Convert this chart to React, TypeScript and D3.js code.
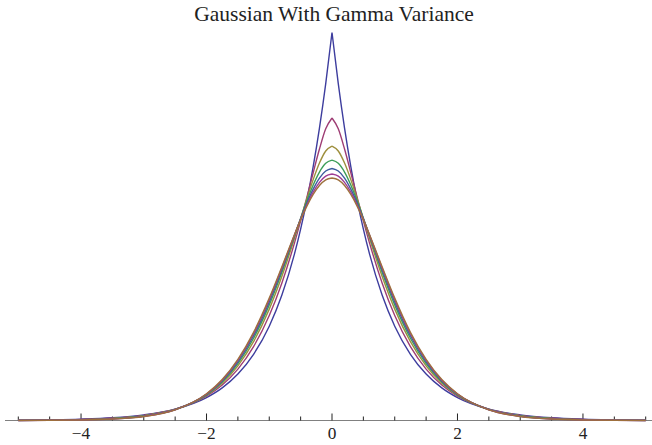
import React from 'react';
import * as d3 from 'd3';

// ---- data ----
const chartTitle = 'Gaussian With Gamma Variance';
// gamma shape parameter of the variance mixing for each curve
const shapeParams = [1, 1.5, 2, 2.5, 3, 3.5, 4];
// sample positions for x >= 0 (the curves are symmetric about 0)
const xHalf = [0, 0.1, 0.2, 0.3, 0.4, 0.5, 0.6, 0.8, 1.0, 1.25, 1.5, 1.75, 2.0, 2.5, 3.0, 3.5, 4.0, 5.0];
const densK1 = [0.7071, 0.6139, 0.5329, 0.4626, 0.4016, 0.3487, 0.3027, 0.2281, 0.1719, 0.1207, 0.0848, 0.0595, 0.0418, 0.0206, 0.0102, 0.0050, 0.0025, 0.0006];
const densK15 = [0.5513, 0.5316, 0.4947, 0.4516, 0.4072, 0.3638, 0.3228, 0.2503, 0.1913, 0.1346, 0.0937, 0.0647, 0.0443, 0.0205, 0.0093, 0.0042, 0.0019, 0.0004];
const densK2 = [0.5, 0.4912, 0.4692, 0.4390, 0.4044, 0.3679, 0.3313, 0.2625, 0.2030, 0.1436, 0.0996, 0.0679, 0.0458, 0.0202, 0.0087, 0.0037, 0.0015, 0.0003];
const densK25 = [0.4745, 0.4687, 0.4528, 0.4292, 0.4003, 0.3684, 0.3351, 0.2698, 0.2107, 0.1499, 0.1037, 0.0703, 0.0468, 0.0200, 0.0082, 0.0033, 0.0013, 0.0002];
const densK3 = [0.4593, 0.4547, 0.4418, 0.4217, 0.3965, 0.3677, 0.3369, 0.2743, 0.2161, 0.1545, 0.1069, 0.0721, 0.0476, 0.0197, 0.0078, 0.0030, 0.0011, 0.0001];
const densK35 = [0.4492, 0.4453, 0.4340, 0.4162, 0.3933, 0.3666, 0.3377, 0.2775, 0.2200, 0.1580, 0.1094, 0.0735, 0.0482, 0.0196, 0.0075, 0.0027, 0.0010, 0.0001];
const densK4 = [0.4419, 0.4384, 0.4282, 0.4119, 0.3906, 0.3656, 0.3381, 0.2798, 0.2230, 0.1607, 0.1114, 0.0746, 0.0487, 0.0194, 0.0072, 0.0026, 0.0009, 0.0001];
const seriesValues = [densK1, densK15, densK2, densK25, densK3, densK35, densK4];

const majorTicks = [-4, -2, 0, 2, 4];
const majorTickLabels = ['\u22124', '\u22122', '0', '2', '4'];
const minorTicks = [-5, -4.5, -3.5, -3, -2.5, -1.5, -1, -0.5, 0.5, 1, 1.5, 2.5, 3, 3.5, 4.5, 5];

// ---- styling ----
const colors = ['#3d3d9e', '#9e3d74', '#9e8f3d', '#3d9e58', '#3d5c9e', '#9e3d94', '#9e703d'];
const W = 652;
const H = 445;
const serifStyle = { fontFamily: "'Liberation Serif', 'DejaVu Serif', serif" };

export default function App() {
  const xS = d3.scaleLinear().domain([-5, 5]).range([18.3, 645.7]);
  const yS = d3.scaleLinear().domain([0, 0.70711]).range([420.5, 32.5]);
  const axisY = yS(0);

  const line = d3
    .line<[number, number]>()
    .x((d) => xS(d[0]))
    .y((d) => yS(d[1]))
    .curve(d3.curveMonotoneX);

  const paths = seriesValues.map((vals) => {
    const right: [number, number][] = xHalf.map((x, i) => [x, vals[i]]);
    const left: [number, number][] = right
      .slice()
      .reverse()
      .map(([x, y]) => [-x, y]);
    return (line(left) || '') + (line(right) || '');
  });

  return (
    <svg
      width={W}
      height={H}
      viewBox={`0 0 ${W} ${H}`}
      style={{ position: 'absolute', left: 0, top: 0, background: '#fff' }}
    >
      <rect x={0} y={0} width={W} height={H} fill="#fff" />
      <text
        x={334}
        y={21}
        textAnchor="middle"
        style={serifStyle}
        fontSize={21.5}
        fill="#222"
      >
        {chartTitle}
      </text>

      {/* axis */}
      <line x1={5} x2={652} y1={axisY} y2={axisY} stroke="#808080" strokeWidth={1.2} />
      {minorTicks.map((t) => (
        <line
          key={'mi' + t}
          x1={xS(t)}
          x2={xS(t)}
          y1={axisY}
          y2={axisY - 4}
          stroke="#222"
          strokeWidth={1}
        />
      ))}
      {majorTicks.map((t, i) => (
        <g key={'ma' + t}>
          <line x1={xS(t)} x2={xS(t)} y1={axisY} y2={axisY - 7} stroke="#222" strokeWidth={1} />
          <text
            x={xS(t)}
            y={439}
            textAnchor="middle"
            style={serifStyle}
            fontSize={17.3}
            fill="#222"
          >
            {majorTickLabels[i]}
          </text>
        </g>
      ))}

      {/* curves */}
      {paths.map((d, i) => (
        <path
          key={'c' + shapeParams[i]}
          d={d}
          fill="none"
          stroke={colors[i]}
          strokeWidth={1.4}
          strokeLinejoin="round"
        />
      ))}
    </svg>
  );
}
